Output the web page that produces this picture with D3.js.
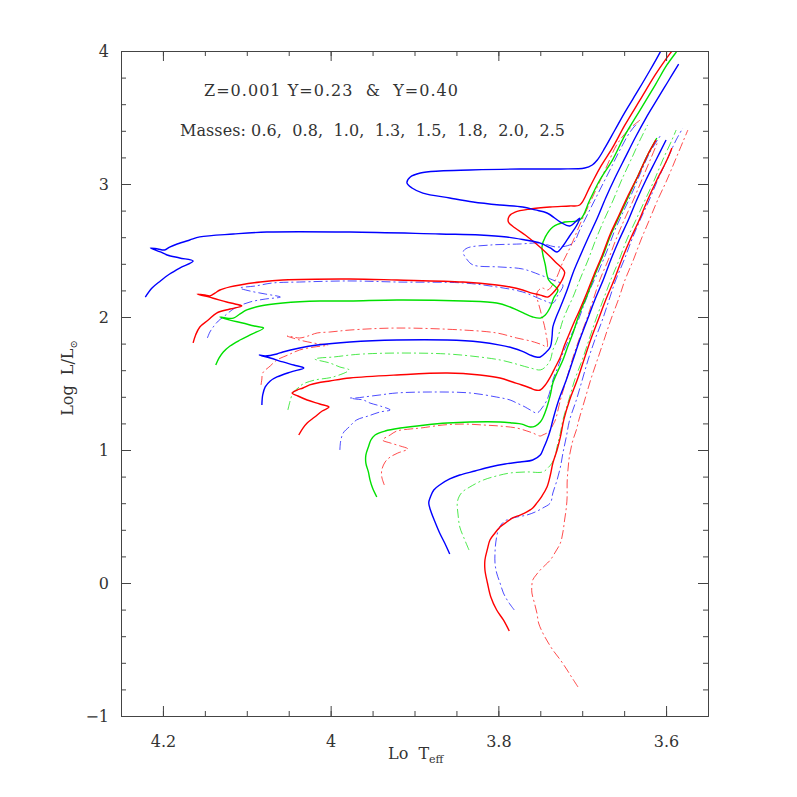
<!DOCTYPE html>
<html>
<head>
<meta charset="utf-8">
<script src="https://cdn.jsdelivr.net/npm/d3@7"></script>
<style>
  body { margin: 0; background: #fff; }
</style>
</head>
<body>
<div id="chart"></div>
<script>
// Y=0.23 tracks (solid), [log Teff, log L]
const s06 = [[3.787,-0.361],[3.794,-0.278],[3.802,-0.203],[3.809,-0.105],[3.813,0.000],[3.816,0.098],[3.816,0.173],[3.813,0.256],[3.810,0.323],[3.804,0.376],[3.798,0.421],[3.790,0.459],[3.783,0.489],[3.774,0.511],[3.766,0.534],[3.759,0.564],[3.754,0.602],[3.748,0.654],[3.742,0.722],[3.738,0.812],[3.735,0.902],[3.730,1.000],[3.726,1.098],[3.722,1.226],[3.715,1.376],[3.706,1.526],[3.698,1.677],[3.690,1.827],[3.681,1.977],[3.672,2.128],[3.662,2.278],[3.653,2.429],[3.643,2.579],[3.632,2.729],[3.622,2.880],[3.611,3.030],[3.599,3.180],[3.593,3.271]]
const s08 = [[3.858,0.218],[3.864,0.301],[3.870,0.376],[3.876,0.466],[3.881,0.549],[3.883,0.602],[3.881,0.647],[3.877,0.699],[3.870,0.737],[3.858,0.782],[3.846,0.812],[3.828,0.842],[3.810,0.872],[3.792,0.895],[3.774,0.910],[3.759,0.925],[3.750,0.962],[3.746,1.015],[3.742,1.075],[3.738,1.150],[3.735,1.226],[3.728,1.376],[3.719,1.526],[3.711,1.677],[3.703,1.827],[3.694,1.977],[3.685,2.128],[3.675,2.278],[3.666,2.429],[3.656,2.579],[3.645,2.729],[3.635,2.880],[3.624,3.030],[3.612,3.180],[3.600,3.331]]
const s10 = [[3.945,0.647],[3.950,0.714],[3.953,0.774],[3.955,0.835],[3.958,0.902],[3.958,0.962],[3.955,1.023],[3.952,1.075],[3.947,1.113],[3.935,1.143],[3.917,1.165],[3.887,1.188],[3.861,1.203],[3.834,1.211],[3.798,1.211],[3.783,1.203],[3.772,1.195],[3.762,1.173],[3.756,1.180],[3.750,1.211],[3.747,1.241],[3.742,1.323],[3.738,1.414],[3.735,1.504],[3.729,1.594],[3.723,1.677],[3.717,1.782],[3.711,1.880],[3.703,2.030],[3.694,2.165],[3.685,2.316],[3.675,2.466],[3.666,2.617],[3.655,2.767],[3.644,2.917],[3.633,3.068],[3.622,3.218],[3.611,3.346]]
const s13 = [[4.038,1.113],[4.033,1.165],[4.028,1.203],[4.019,1.248],[4.010,1.293],[4.002,1.323],[4.013,1.346],[4.028,1.376],[4.039,1.406],[4.046,1.429],[4.040,1.451],[4.033,1.466],[4.025,1.489],[4.016,1.504],[4.001,1.519],[3.977,1.541],[3.921,1.564],[3.861,1.579],[3.822,1.564],[3.798,1.541],[3.783,1.511],[3.772,1.489],[3.762,1.466],[3.756,1.451],[3.750,1.451],[3.744,1.489],[3.738,1.549],[3.732,1.624],[3.726,1.699],[3.721,1.789],[3.715,1.880],[3.709,1.970],[3.703,2.053],[3.694,2.188],[3.686,2.316],[3.676,2.466],[3.667,2.617],[3.656,2.767],[3.645,2.917],[3.633,3.068],[3.622,3.218],[3.612,3.331]]
const s15 = [[4.082,1.338],[4.081,1.414],[4.078,1.474],[4.072,1.519],[4.064,1.549],[4.048,1.586],[4.032,1.617],[4.044,1.639],[4.057,1.662],[4.072,1.692],[4.085,1.714],[4.078,1.707],[4.064,1.722],[4.057,1.737],[4.037,1.767],[4.016,1.789],[3.977,1.812],[3.921,1.827],[3.861,1.827],[3.822,1.812],[3.798,1.789],[3.783,1.767],[3.772,1.744],[3.762,1.714],[3.755,1.699],[3.750,1.699],[3.744,1.729],[3.738,1.774],[3.736,1.850],[3.735,1.925],[3.731,2.000],[3.726,2.075],[3.718,2.203],[3.711,2.331],[3.703,2.451],[3.693,2.594],[3.682,2.744],[3.672,2.895],[3.661,3.045],[3.649,3.196],[3.637,3.346],[3.624,3.496],[3.611,3.632],[3.598,3.767],[3.585,3.902]]
const s18 = [[4.137,1.639],[4.133,1.692],[4.128,1.737],[4.120,1.782],[4.108,1.827],[4.094,1.872],[4.080,1.917],[4.091,1.932],[4.105,1.955],[4.120,1.977],[4.132,2.000],[4.125,1.992],[4.116,1.992],[4.108,2.023],[4.100,2.053],[4.084,2.083],[4.057,2.105],[4.013,2.120],[3.977,2.120],[3.921,2.128],[3.842,2.120],[3.802,2.105],[3.786,2.075],[3.778,2.053],[3.768,2.023],[3.759,2.000],[3.750,1.992],[3.744,2.015],[3.738,2.075],[3.734,2.143],[3.729,2.203],[3.740,2.278],[3.744,2.391],[3.748,2.526],[3.744,2.602],[3.735,2.677],[3.721,2.714],[3.703,2.729],[3.691,2.880],[3.679,3.030],[3.664,3.180],[3.649,3.368],[3.631,3.556],[3.613,3.744],[3.599,3.895],[3.586,4.008],[3.582,4.045]]
const s20 = [[4.164,1.805],[4.161,1.865],[4.156,1.925],[4.146,1.977],[4.136,2.030],[4.120,2.060],[4.106,2.083],[4.114,2.098],[4.124,2.113],[4.141,2.143],[4.159,2.173],[4.150,2.165],[4.144,2.158],[4.138,2.180],[4.132,2.203],[4.120,2.226],[4.108,2.241],[4.084,2.263],[4.057,2.278],[3.977,2.286],[3.921,2.278],[3.842,2.263],[3.802,2.241],[3.786,2.226],[3.771,2.203],[3.760,2.180],[3.750,2.165],[3.741,2.150],[3.735,2.180],[3.730,2.218],[3.724,2.278],[3.721,2.338],[3.732,2.414],[3.744,2.489],[3.756,2.556],[3.768,2.617],[3.780,2.669],[3.788,2.714],[3.787,2.759],[3.780,2.789],[3.762,2.812],[3.738,2.827],[3.715,2.835],[3.703,2.842],[3.691,2.977],[3.679,3.120],[3.664,3.271],[3.649,3.444],[3.631,3.632],[3.613,3.820],[3.601,3.932],[3.592,4.008],[3.588,4.045]]
const s25 = [[4.221,2.150],[4.213,2.218],[4.203,2.271],[4.192,2.323],[4.180,2.368],[4.164,2.421],[4.180,2.444],[4.195,2.466],[4.203,2.489],[4.215,2.519],[4.206,2.511],[4.198,2.504],[4.192,2.526],[4.183,2.549],[4.168,2.579],[4.156,2.602],[4.116,2.624],[4.076,2.639],[3.977,2.639],[3.870,2.624],[3.822,2.617],[3.790,2.602],[3.768,2.579],[3.750,2.556],[3.738,2.519],[3.730,2.489],[3.723,2.534],[3.715,2.609],[3.707,2.684],[3.703,2.744],[3.715,2.684],[3.726,2.714],[3.742,2.782],[3.756,2.805],[3.771,2.827],[3.798,2.842],[3.830,2.865],[3.858,2.895],[3.890,2.932],[3.903,2.970],[3.909,3.008],[3.905,3.053],[3.893,3.083],[3.870,3.098],[3.834,3.105],[3.774,3.113],[3.726,3.113],[3.697,3.120],[3.688,3.143],[3.682,3.180],[3.673,3.271],[3.661,3.406],[3.649,3.541],[3.633,3.707],[3.619,3.857],[3.607,3.992],[3.604,4.030]]

// Y=0.40 tracks (dash-dot)
const d06 = [[3.705,-0.782],[3.712,-0.714],[3.718,-0.654],[3.726,-0.579],[3.735,-0.504],[3.741,-0.444],[3.747,-0.376],[3.752,-0.301],[3.754,-0.226],[3.757,-0.150],[3.760,-0.075],[3.760,-0.015],[3.759,0.023],[3.755,0.060],[3.750,0.098],[3.744,0.135],[3.738,0.173],[3.732,0.233],[3.726,0.301],[3.723,0.383],[3.721,0.474],[3.719,0.564],[3.718,0.647],[3.718,0.752],[3.717,0.850],[3.715,0.962],[3.711,1.075],[3.707,1.150],[3.704,1.226],[3.697,1.376],[3.690,1.526],[3.682,1.677],[3.674,1.827],[3.666,1.977],[3.657,2.128],[3.649,2.278],[3.639,2.429],[3.630,2.579],[3.620,2.729],[3.610,2.880],[3.599,3.030],[3.589,3.180],[3.579,3.331],[3.574,3.406]]
const d08 = [[3.781,-0.203],[3.788,-0.143],[3.794,-0.075],[3.798,0.000],[3.802,0.075],[3.804,0.150],[3.804,0.226],[3.803,0.308],[3.800,0.398],[3.796,0.444],[3.790,0.474],[3.778,0.496],[3.766,0.511],[3.756,0.534],[3.747,0.564],[3.738,0.602],[3.735,0.677],[3.730,0.774],[3.726,0.872],[3.723,0.977],[3.719,1.098],[3.715,1.226],[3.707,1.376],[3.700,1.526],[3.693,1.677],[3.685,1.827],[3.676,1.977],[3.668,2.128],[3.660,2.278],[3.650,2.429],[3.641,2.579],[3.631,2.729],[3.620,2.880],[3.610,3.030],[3.599,3.180],[3.588,3.331],[3.580,3.421]]
const d10 = [[3.835,0.248],[3.841,0.338],[3.846,0.421],[3.848,0.511],[3.849,0.602],[3.847,0.647],[3.843,0.684],[3.834,0.722],[3.818,0.774],[3.802,0.805],[3.786,0.827],[3.766,0.835],[3.747,0.835],[3.741,0.865],[3.736,0.902],[3.732,0.962],[3.730,1.023],[3.726,1.128],[3.723,1.226],[3.716,1.376],[3.709,1.526],[3.700,1.677],[3.692,1.827],[3.684,1.977],[3.675,2.128],[3.666,2.278],[3.656,2.429],[3.647,2.579],[3.636,2.729],[3.625,2.880],[3.614,3.030],[3.604,3.180],[3.593,3.331],[3.588,3.406]]
const d13 = [[3.936,0.737],[3.939,0.797],[3.939,0.850],[3.935,0.910],[3.929,0.947],[3.920,0.977],[3.908,1.008],[3.917,1.030],[3.929,1.053],[3.938,1.075],[3.929,1.113],[3.921,1.143],[3.905,1.158],[3.893,1.165],[3.866,1.188],[3.842,1.195],[3.818,1.188],[3.798,1.180],[3.778,1.165],[3.766,1.143],[3.759,1.128],[3.750,1.105],[3.747,1.113],[3.742,1.128],[3.738,1.150],[3.735,1.188],[3.732,1.226],[3.726,1.376],[3.719,1.526],[3.712,1.677],[3.704,1.827],[3.695,1.977],[3.687,2.128],[3.679,2.278],[3.669,2.429],[3.660,2.579],[3.650,2.729],[3.639,2.880],[3.629,3.030],[3.619,3.180],[3.610,3.316]]
const d15 = [[3.989,1.000],[3.988,1.068],[3.985,1.128],[3.978,1.173],[3.969,1.226],[3.955,1.256],[3.941,1.286],[3.929,1.301],[3.941,1.331],[3.953,1.353],[3.961,1.376],[3.970,1.383],[3.977,1.391],[3.970,1.391],[3.961,1.398],[3.941,1.414],[3.921,1.429],[3.881,1.436],[3.834,1.429],[3.802,1.398],[3.786,1.376],[3.778,1.353],[3.768,1.323],[3.762,1.301],[3.754,1.278],[3.748,1.316],[3.742,1.376],[3.738,1.451],[3.735,1.526],[3.729,1.624],[3.723,1.729],[3.715,1.842],[3.706,1.955],[3.698,2.090],[3.690,2.218],[3.680,2.353],[3.670,2.504],[3.661,2.654],[3.650,2.805],[3.639,2.955],[3.629,3.105],[3.619,3.241],[3.607,3.361]]
const d18 = [[4.051,1.301],[4.048,1.376],[4.045,1.429],[4.039,1.466],[4.033,1.496],[4.019,1.526],[3.997,1.549],[3.978,1.602],[3.989,1.624],[4.001,1.654],[4.019,1.684],[4.013,1.692],[3.997,1.699],[3.977,1.714],[3.961,1.722],[3.921,1.729],[3.861,1.722],[3.822,1.699],[3.798,1.677],[3.783,1.654],[3.762,1.617],[3.750,1.602],[3.744,1.624],[3.738,1.677],[3.735,1.752],[3.730,1.827],[3.723,1.977],[3.717,2.068],[3.711,2.150],[3.703,2.278],[3.693,2.429],[3.684,2.579],[3.674,2.729],[3.663,2.880],[3.653,3.030],[3.642,3.180],[3.631,3.331],[3.622,3.444]]
const d20 = [[4.083,1.489],[4.082,1.534],[4.081,1.579],[4.072,1.632],[4.064,1.677],[4.051,1.714],[4.037,1.752],[4.020,1.774],[4.003,1.789],[4.013,1.797],[4.021,1.805],[4.037,1.827],[4.052,1.857],[4.045,1.850],[4.037,1.842],[4.027,1.857],[4.016,1.880],[4.001,1.887],[3.977,1.902],[3.921,1.917],[3.842,1.902],[3.802,1.880],[3.778,1.842],[3.762,1.820],[3.754,1.805],[3.747,1.789],[3.742,1.774],[3.744,1.902],[3.750,2.053],[3.754,2.180],[3.748,2.218],[3.741,2.203],[3.732,2.278],[3.723,2.414],[3.713,2.541],[3.703,2.692],[3.692,2.842],[3.681,2.992],[3.670,3.143],[3.659,3.293],[3.645,3.406],[3.631,3.481]]
const d25 = [[4.147,1.842],[4.144,1.887],[4.140,1.925],[4.134,1.970],[4.128,2.000],[4.114,2.068],[4.096,2.113],[4.078,2.135],[4.060,2.150],[4.078,2.173],[4.096,2.195],[4.108,2.218],[4.090,2.233],[4.069,2.256],[4.037,2.263],[3.977,2.271],[3.921,2.263],[3.842,2.256],[3.802,2.226],[3.771,2.188],[3.747,2.128],[3.735,2.105],[3.729,2.165],[3.723,2.241],[3.735,2.278],[3.750,2.316],[3.771,2.361],[3.798,2.376],[3.830,2.391],[3.837,2.429],[3.842,2.489],[3.837,2.519],[3.810,2.541],[3.774,2.549],[3.750,2.556],[3.730,2.526],[3.711,2.556],[3.703,2.654],[3.691,2.805],[3.679,2.955],[3.667,3.105],[3.655,3.256],[3.643,3.391],[3.633,3.466]]

const solidTracks = [s06, s08, s10, s13, s15, s18, s20, s25]
const dashTracks = [d06, d08, d10, d13, d15, d18, d20, d25]
const trackColors = ['#ff0000', '#0000ff', '#00e000', '#ff0000', '#0000ff', '#00e000', '#ff0000', '#0000ff']

const xMajor = [4.2, 4.0, 3.8, 3.6]
const yMajor = [-1, 0, 1, 2, 3, 4]

const width = 797, height = 797
const mLeft = 121, mRight = 708, mTop = 51, mBottom = 716
const serif = '"DejaVu Serif", "Liberation Serif", serif'

let svg = d3.select('#chart').append('svg')
  .attr('width', width)
  .attr('height', height)
  .style('font-family', serif)

let x = d3.scaleLinear().domain([4.25, 3.55]).range([mLeft, mRight])
let y = d3.scaleLinear().domain([-1, 4]).range([mBottom, mTop])

svg.append('clipPath').attr('id', 'plot')
  .append('rect')
  .attr('x', mLeft).attr('y', mTop)
  .attr('width', mRight - mLeft).attr('height', mBottom - mTop)

// tracks
let line = d3.line()
  .x(d => x(d[0]))
  .y(d => y(d[1]))
  .curve(d3.curveCatmullRom.alpha(0.5))

let fg = svg.append('g').attr('clip-path', 'url(#plot)')

fg.selectAll('.dash').data(dashTracks).enter()
  .append('path')
  .attr('class', 'dash')
  .attr('d', line)
  .attr('fill', 'none')
  .attr('stroke', (d, i) => trackColors[i])
  .attr('stroke-width', 1)
  .attr('stroke-opacity', 0.7)
  .attr('stroke-dasharray', '9,3,2,3')

fg.selectAll('.solid').data(solidTracks).enter()
  .append('path')
  .attr('class', 'solid')
  .attr('d', line)
  .attr('fill', 'none')
  .attr('stroke', (d, i) => trackColors[i])
  .attr('stroke-width', 1.4)

// axes: ticks on all four sides, pointing inward
let xMinor = d3.range(3.55, 4.2501, 0.05).map(v => +v.toFixed(2))
let yMinor = d3.range(-1, 4.001, 0.2).map(v => +v.toFixed(1))

let styleAxis = g => {
  g.attr('font-family', serif)
  g.select('.domain').attr('stroke', '#444')
  g.selectAll('.tick line').attr('stroke', '#444')
  g.selectAll('.tick text').attr('fill', '#333').attr('font-size', 16)
}

svg.append('g').attr('transform', `translate(0,${mBottom})`)
  .call(d3.axisBottom(x).tickValues(xMinor).tickSize(-5).tickSizeOuter(0).tickFormat(''))
  .call(styleAxis)
svg.append('g').attr('transform', `translate(0,${mBottom})`)
  .call(d3.axisBottom(x).tickValues(xMajor).tickSize(-10).tickSizeOuter(0).tickPadding(20).tickFormat(d3.format('')))
  .call(styleAxis)
svg.append('g').attr('transform', `translate(0,${mTop})`)
  .call(d3.axisTop(x).tickValues(xMinor).tickSize(-5).tickSizeOuter(0).tickFormat(''))
  .call(styleAxis)
svg.append('g').attr('transform', `translate(0,${mTop})`)
  .call(d3.axisTop(x).tickValues(xMajor).tickSize(-10).tickSizeOuter(0).tickFormat(''))
  .call(styleAxis)

svg.append('g').attr('transform', `translate(${mLeft},0)`)
  .call(d3.axisLeft(y).tickValues(yMinor).tickSize(-5).tickSizeOuter(0).tickFormat(''))
  .call(styleAxis)
svg.append('g').attr('transform', `translate(${mLeft},0)`)
  .call(d3.axisLeft(y).tickValues(yMajor).tickSize(-10).tickSizeOuter(0).tickPadding(12)
    .tickFormat(d => d < 0 ? '\u2212' + Math.abs(d) : d))
  .call(styleAxis)
svg.append('g').attr('transform', `translate(${mRight},0)`)
  .call(d3.axisRight(y).tickValues(yMinor).tickSize(-5).tickSizeOuter(0).tickFormat(''))
  .call(styleAxis)
svg.append('g').attr('transform', `translate(${mRight},0)`)
  .call(d3.axisRight(y).tickValues(yMajor).tickSize(-10).tickSizeOuter(0).tickFormat(''))
  .call(styleAxis)

// labels
svg.append('text')
  .attr('x', 204).attr('y', 96)
  .attr('font-size', 16).attr('fill', '#333')
  .attr('textLength', 254).attr('lengthAdjust', 'spacing')
  .style('white-space', 'pre')
  .text('Z=0.001 Y=0.23  &  Y=0.40')

svg.append('text')
  .attr('x', 180).attr('y', 136)
  .attr('font-size', 16).attr('fill', '#333')
  .attr('textLength', 385).attr('lengthAdjust', 'spacing')
  .style('white-space', 'pre')
  .text('Masses: 0.6,  0.8,  1.0,  1.3,  1.5,  1.8,  2.0,  2.5')

let xl = svg.append('text')
  .attr('x', 388).attr('y', 759)
  .attr('font-size', 16).attr('fill', '#333')
  .style('white-space', 'pre')
xl.append('tspan').text('Lo  T')
xl.append('tspan').attr('font-size', 11).attr('dy', 4).text('eff')

let yl = svg.append('text')
  .attr('transform', 'translate(73,378) rotate(-90)')
  .attr('text-anchor', 'middle')
  .attr('font-size', 16).attr('fill', '#333')
  .style('white-space', 'pre')
yl.append('tspan').text('Log  L/L')
yl.append('tspan').attr('font-size', 10).attr('dy', 4).text('\u2299')
</script>
</body>
</html>
